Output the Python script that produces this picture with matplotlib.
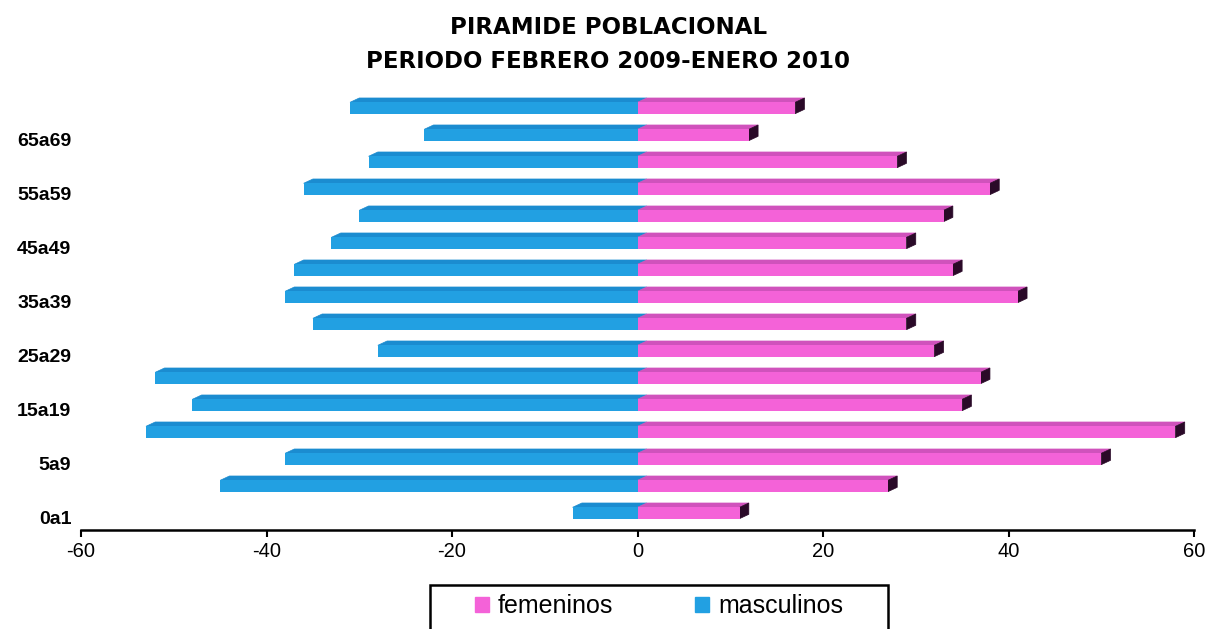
import matplotlib

matplotlib.use("Agg")
import matplotlib.pyplot as plt
from matplotlib.patches import Polygon, Patch, Rectangle
from matplotlib.transforms import ScaledTranslation

# age groups, bottom to top (only every other one is labelled on the axis)
grupos = ["0a1", "1a4", "5a9", "10a14", "15a19", "20a24", "25a29", "30a34",
          "35a39", "40a44", "45a49", "50a54", "55a59", "60a64", "65a69", "70ymas"]
masculinos = [-7, -45, -38, -53, -48, -52, -28, -35, -38, -37, -33, -30, -36, -29, -23, -31]
femeninos = [11, 27, 50, 58, 35, 37, 32, 29, 41, 34, 29, 33, 38, 28, 12, 17]
xticks = [-60, -40, -20, 0, 20, 40, 60]

BLUE, BLUE_TOP = "#22a0e2", "#1b8cd0"
PINK, PINK_TOP = "#f462d8", "#d052bc"
CAP = "#2a0a28"

H = 0.42     # front face height (category units)
DX = 1.0     # 3d depth, x data units
DY = 0.16    # 3d depth, category units

fig = plt.figure(figsize=(12.17, 6.29), dpi=100)
ax = fig.add_axes([0.0666, 0.1574, 0.9145, 0.6924])

ys = list(range(len(grupos)))


def depth(ax, y, x0, x1, top_col, cap_col=None):
    yt = y + H / 2
    ax.add_patch(Polygon([(x0, yt), (x1, yt), (x1 + DX, yt + DY), (x0 + DX, yt + DY)],
                         closed=True, fc=top_col, ec=top_col, lw=0.5, zorder=2))
    if cap_col:
        yb = y - H / 2
        ax.add_patch(Polygon([(x1, yb), (x1, yt), (x1 + DX, yt + DY), (x1 + DX, yb + DY)],
                             closed=True, fc=cap_col, ec=cap_col, lw=0.5, zorder=2))


for y, m in zip(ys, masculinos):
    depth(ax, y, m, 0, BLUE_TOP)
ax.barh(ys, masculinos, height=H, color=BLUE, zorder=3)

for y, f in zip(ys, femeninos):
    depth(ax, y, 0, f, PINK_TOP, CAP)
ax.barh(ys, femeninos, height=H, color=PINK, zorder=4)

ax.set_xlim(-60, 60)
ax.set_ylim(-0.63, 15.5)
ax.set_xticks(xticks)
ax.set_xticklabels([str(t) for t in xticks], fontsize=14.5, family="Liberation Sans")
ax.set_yticks(ys[::2])
ax.set_yticklabels(grupos[::2], fontsize=14, fontweight="bold", family="Liberation Sans")
ax.tick_params(axis="y", length=0, pad=7)
ax.tick_params(axis="x", length=5, width=1.5, direction="out", pad=4)
# category labels sit a little below the bar faces in the original
shift = ScaledTranslation(0, -5 / 100, fig.dpi_scale_trans)
for lbl in ax.get_yticklabels():
    lbl.set_transform(lbl.get_transform() + shift)
for s in ("top", "right", "left"):
    ax.spines[s].set_visible(False)
ax.spines["bottom"].set_linewidth(1.8)

fig.text(0.5, 1 - 27 / 629, "PIRAMIDE POBLACIONAL", ha="center", va="center",
         fontsize=16.5, fontweight="bold")
fig.text(0.5, 1 - 61 / 629, "PERIODO FEBRERO 2009-ENERO 2010", ha="center", va="center",
         fontsize=16.5, fontweight="bold")

# legend box runs off the bottom edge, as in the scanned original
fig.patches.append(Rectangle((430 / 1217, -0.02), 458 / 1217, 0.02 + 44 / 629,
                             transform=fig.transFigure, fill=False, ec="black", lw=1.8))
handles = [Patch(color=PINK, label="femeninos"), Patch(color=BLUE, label="masculinos")]
fig.legend(handles=handles, loc="center", bbox_to_anchor=(659 / 1217, 1 - 606 / 629),
           ncol=2, frameon=False, handlelength=0.55, handleheight=0.55, handletextpad=0.35,
           columnspacing=3.3, prop={"family": "Liberation Sans", "size": 18})

fig.savefig("out.png", dpi=100)
